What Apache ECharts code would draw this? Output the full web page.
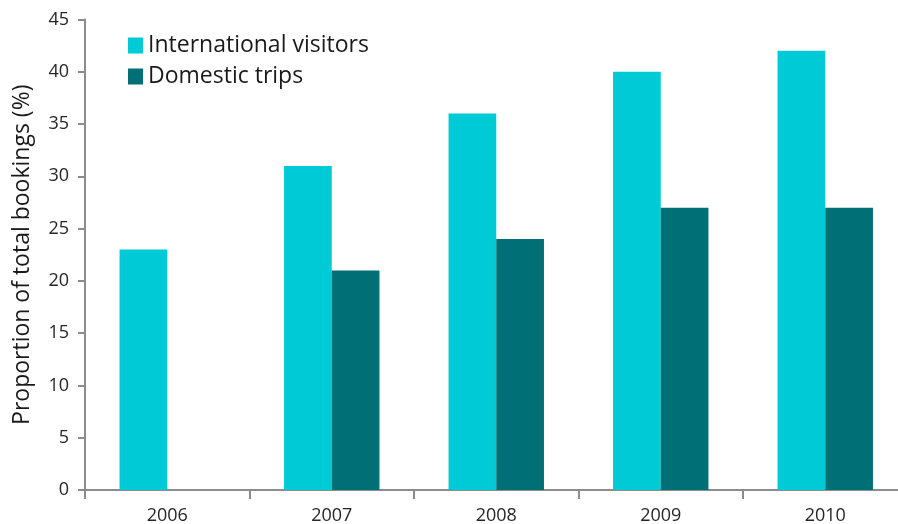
<!DOCTYPE html>
<html>
<head>
<meta charset="utf-8">
<script src="https://cdn.jsdelivr.net/npm/echarts@6/dist/echarts.min.js"></script>
<style>
  html, body { margin: 0; padding: 0; background: #fff; }
  #chart { width: 898px; height: 524px; }
</style>
</head>
<body>
<div id="chart"></div>
<script>
// Share of total bookings by year
const years = ['2006', '2007', '2008', '2009', '2010'];
const internationalVisitors = [23, 31, 36, 40, 42];
const domesticTrips = [null, 21, 24, 27, 27];
const seriesNames = ['International visitors', 'Domestic trips'];
const yAxisTitle = 'Proportion of total bookings (%)';

const FONT = '"Open Sans", "DejaVu Sans", sans-serif';
const chart = echarts.init(document.getElementById('chart'), null, { renderer: 'canvas' });

chart.setOption({
  animation: false,
  backgroundColor: '#ffffff',
  textStyle: { fontFamily: FONT },
  // the plot runs a little past the right edge, so the last tick is cut off
  grid: {
    left: 85, top: 19.5, width: 822.5, height: 470.5,
    containLabel: false,
    outerBoundsMode: 'none'
  },
  legend: {
    orient: 'vertical',
    left: 128,
    top: 34,
    padding: 0,
    itemWidth: 15,
    itemHeight: 16,
    itemGap: 8,
    icon: 'rect',
    textStyle: { fontFamily: FONT, fontSize: 23, color: '#1a1a1a' },
    data: seriesNames
  },
  xAxis: {
    type: 'category',
    data: years,
    boundaryGap: true,
    axisLine: { lineStyle: { color: '#8c8c8c', width: 2 } },
    axisTick: { show: true, length: 9, lineStyle: { color: '#8c8c8c', width: 2 } },
    axisLabel: { fontFamily: FONT, fontSize: 18, color: '#262626', margin: 17 }
  },
  yAxis: {
    type: 'value',
    min: 0,
    max: 45,
    interval: 5,
    name: yAxisTitle,
    nameLocation: 'middle',
    nameGap: 51,
    nameTextStyle: { fontFamily: FONT, fontSize: 23, color: '#1a1a1a' },
    axisLine: { show: true, lineStyle: { color: '#8c8c8c', width: 2 } },
    axisTick: { show: true, length: 7, lineStyle: { color: '#8c8c8c', width: 2 } },
    axisLabel: { fontFamily: FONT, fontSize: 18, color: '#262626', margin: 16 },
    splitLine: { show: false }
  },
  series: [
    {
      name: seriesNames[0],
      type: 'bar',
      data: internationalVisitors,
      itemStyle: { color: '#00cad5' },
      barGap: '0%',
      barCategoryGap: '42%'
    },
    {
      name: seriesNames[1],
      type: 'bar',
      data: domesticTrips,
      itemStyle: { color: '#006f76' },
      barGap: '0%',
      barCategoryGap: '42%'
    }
  ]
});
</script>
</body>
</html>
